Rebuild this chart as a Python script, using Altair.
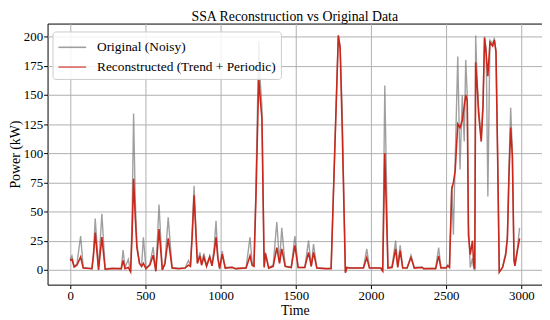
import altair as alt
import pandas as pd

ORIG = "Original (Noisy)"
RECON = "Reconstructed (Trend + Periodic)"

time = [0, 12, 27, 45, 70, 87, 145, 155, 167, 189, 211, 233, 280, 340, 352, 365, 387, 402, 412, 422,
        433, 444, 461, 475, 487, 504, 530, 552, 570, 591, 613, 630, 652, 678, 720, 764, 787, 800, 812, 824,
        835, 846, 863, 874, 889, 907, 928, 943, 958, 970, 982, 994, 1011, 1031, 1077, 1100, 1170, 1196, 1210, 1222,
        1235, 1254, 1265, 1275, 1290, 1298, 1320, 1350, 1374, 1392, 1407, 1430, 1470, 1494, 1516, 1560, 1585, 1603, 1618, 1640,
        1700, 1735, 1783, 1795, 1808, 1830, 1840, 1860, 1950, 1972, 1990, 2066, 2078, 2092, 2113, 2140, 2164, 2178, 2194, 2211,
        2240, 2266, 2288, 2340, 2350, 2430, 2450, 2465, 2500, 2510, 2522, 2537, 2548, 2560, 2577, 2592, 2607, 2620, 2630, 2640,
        2648, 2660, 2675, 2683, 2690, 2696, 2705, 2715, 2733, 2745, 2755, 2766, 2777, 2791, 2809, 2820, 2831, 2842, 2853, 2875,
        2896, 2907, 2918, 2929, 2940, 2951, 2957, 2973, 2988]

reconstructed = [8, 9, 2.5, 4, 11, 1.5, 1, 12, 32, 0, 28, 0.5, 1, 1, 8, 1, 2, -1.7, 30, 78,
                 45, 19, 5.5, 3, 5.5, 1, 4, 12.5, -1, 35, 0, 5, 27, 1.5, 1, 1.5, 4, 3, 30, 64,
                 35, 5.5, 12, 4, 11, 3, 11, 3.5, 15, 28, 10, 1, 13.5, 1.5, 2, 1, 1.5, 12, 4, 3,
                 60, 165, 145, 130, 2, 14, 1.5, 3, 19, 5.5, 18, 3, 2, 21, 2, 2, 15, 3, 15, 1.5,
                 1, 1, 201, 190, 125, -2.5, 2, 1.5, 1.5, 10.5, 1.5, 1.5, -1, 100, 1.5, 2, 18, 2, 16.5, 1.5,
                 1.5, 10.5, 1.5, 2, 1, 1, 12, 1.5, 1.5, 3.5, 2, 69, 75, 85, 125, 122, 128, 140, 150, 145,
                 30, 13, 25, 4, 1, 178, 160, 135, 110, 140, 199, 185, 166, 195, 192, 197, 187, 97, -2, 2,
                 13, 27, 83, 122, 97, 8, 3.5, 16, 27]

original = [9, 12, 3, 5, 29, 2, 1, 14, 44, 1, 48, 1, 1.5, 1, 17, 2, 9, -2, 45, 134,
            60, 22, 6, 3, 28, 1, 5, 19.5, -1.5, 56, 0, 6, 45, 2, 1.5, 1.5, 8, 3.5, 35, 72,
            38, 6, 15, 5, 14, 4, 12, 4, 20, 42, 12, 1, 16, 2, 2.5, 1, 2, 28, 6, 3,
            70, 196, 160, 140, 3, 15, 2, 4, 41, 6, 36, 3, 2, 29, 2, 2, 25, 3, 22, 2,
            1, 1.5, 201, 192, 140, -2, 2, 1.5, 2, 18, 2, 1.5, -1.5, 158, 2, 3, 25, 3, 21, 2,
            1.5, 12.5, 2, 2.5, 1, 1.5, 19, 2, 2, 4, 3, 72, 30, 95, 183, 86, 150, 110, 180, 150,
            40, 2, 10, 1, 0, 201, 165, 140, 112, 145, 200, 190, 63, 197, 194, 199, 188, 100, -2, 2.5,
            15, 30, 90, 139, 100, 10, 4, 18, 36]

n = len(time)
df = pd.DataFrame({
    "time": time + time,
    "power": original + reconstructed,
    "series": [ORIG] * n + [RECON] * n,
})

FONT = "Liberation Serif"

color = alt.Color(
    "series:N",
    scale=alt.Scale(domain=[ORIG, RECON], range=["#777777", "#c8281c"]),
    legend=alt.Legend(
        title=None, orient="none", legendX=5, legendY=8,
        symbolType="M-1,0H1.8", symbolSize=400, symbolStrokeWidth=1.6,
        labelFont=FONT, labelFontSize=13.5, labelColor="black", labelOffset=18,
        labelLimit=0, rowPadding=2, padding=5,
        strokeColor="#cccccc", fillColor="rgba(255,255,255,0.85)", cornerRadius=3,
    ),
)

x = alt.X("time:Q", scale=alt.Scale(domain=[-150, 3137], nice=False, zero=False),
          axis=alt.Axis(values=[0, 500, 1000, 1500, 2000, 2500, 3000], title="Time", format="d"))
y = alt.Y("power:Q", scale=alt.Scale(domain=[-12.7, 211.2], nice=False, zero=False),
          axis=alt.Axis(values=[0, 25, 50, 75, 100, 125, 150, 175, 200], title="Power (kW)", format="d"))

base = alt.Chart(df)
gray = base.transform_filter(alt.datum.series == ORIG).mark_line(
    strokeWidth=1.4, opacity=0.7, clip=True).encode(x=x, y=y, color=color, order="time:Q")
red = base.transform_filter(alt.datum.series == RECON).mark_line(
    strokeWidth=1.6, clip=True).encode(x=x, y=y, color=color, order="time:Q")

chart = alt.layer(gray, red).properties(
    width=500, height=264,
    padding={"left": 0, "top": 0, "right": 0, "bottom": 0},
    title=alt.TitleParams("SSA Reconstruction vs Original Data", font=FONT, fontSize=14,
                          fontWeight="normal", color="black", anchor="middle", offset=0),
).configure_view(stroke="black", strokeWidth=1).configure_axis(
    labelFont=FONT, labelFontSize=13, labelColor="black",
    titleFont=FONT, titleFontSize=14, titleFontWeight="normal", titleColor="black",
    tickColor="black", tickSize=4, domain=False,
    gridColor="#b0b0b0", gridWidth=1, gridOpacity=1,
    labelPadding=1, titlePadding=1,
)

chart.save("out.html", embed_options={"renderer": "svg", "actions": False})
